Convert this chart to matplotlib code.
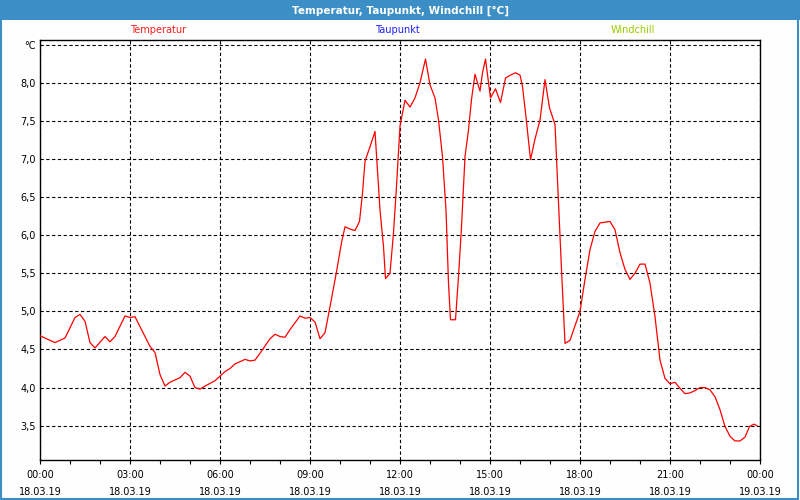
import matplotlib
matplotlib.use("Agg")
import matplotlib.pyplot as plt
from matplotlib.patches import Rectangle

# Temperatur 18.03.19, minutes after midnight and value in degC
minutes = [0, 30, 50, 70, 80, 90, 100, 110, 130, 140, 150, 170, 180, 190, 200,
           220, 230, 240, 250, 260, 280, 290, 300, 310, 320, 330, 350, 370, 380,
           390, 410, 420, 430, 440, 460, 470, 480, 490, 500, 520, 530, 540, 550,
           560, 570, 580, 593, 603, 610, 620, 630, 639, 645, 650, 660, 670, 680,
           687, 691, 700, 707, 713, 720, 730, 740, 750, 760, 771, 780, 790, 797,
           805, 812, 817, 821, 831, 837, 843, 850, 857, 863, 870, 880, 885, 891,
           901, 911, 921, 931, 941, 951, 960, 965, 973, 981, 990, 1000, 1010,
           1019, 1030, 1037, 1043, 1050, 1060, 1080, 1090, 1100, 1110, 1120,
           1130, 1140, 1150, 1160, 1170, 1180, 1190, 1200, 1210, 1220, 1230,
           1240, 1250, 1260, 1270, 1280, 1290, 1300, 1310, 1320, 1330, 1340,
           1350, 1360, 1370, 1380, 1390, 1400, 1410, 1419, 1428, 1434]
temperatur = [4.68, 4.59, 4.65, 4.92, 4.96, 4.87, 4.59, 4.52, 4.67, 4.60, 4.67,
              4.94, 4.92, 4.93, 4.80, 4.54, 4.46, 4.17, 4.02, 4.07, 4.13, 4.20,
              4.15, 4.00, 3.98, 4.02, 4.09, 4.21, 4.25, 4.31, 4.37, 4.35, 4.36,
              4.45, 4.64, 4.70, 4.67, 4.66, 4.76, 4.94, 4.91, 4.92, 4.86, 4.64,
              4.72, 5.06, 5.52, 5.90, 6.11, 6.08, 6.06, 6.18, 6.55, 6.97, 7.16,
              7.36, 6.33, 5.85, 5.43, 5.50, 6.03, 6.64, 7.43, 7.77, 7.68, 7.80,
              8.00, 8.31, 7.97, 7.80, 7.51, 7.03, 6.33, 5.37, 4.89, 4.89, 5.46,
              6.11, 7.03, 7.38, 7.78, 8.11, 7.89, 8.13, 8.31, 7.80, 7.92, 7.74,
              8.06, 8.10, 8.13, 8.10, 7.95, 7.49, 6.99, 7.26, 7.51, 8.04, 7.67,
              7.45, 6.42, 5.55, 4.58, 4.62, 5.00, 5.42, 5.81, 6.05, 6.16, 6.17,
              6.18, 6.07, 5.77, 5.55, 5.42, 5.50, 5.62, 5.62, 5.37, 4.93, 4.36,
              4.12, 4.05, 4.07, 3.99, 3.92, 3.93, 3.96, 4.00, 4.00, 3.97, 3.88,
              3.71, 3.49, 3.36, 3.30, 3.30, 3.35, 3.49, 3.52, 3.50]

x_ticks = [0, 180, 360, 540, 720, 900, 1080, 1260, 1440]
x_labels = ["00:00\n18.03.19", "03:00\n18.03.19", "06:00\n18.03.19",
            "09:00\n18.03.19", "12:00\n18.03.19", "15:00\n18.03.19",
            "18:00\n18.03.19", "21:00\n18.03.19", "00:00\n19.03.19"]
y_ticks = [3.5, 4.0, 4.5, 5.0, 5.5, 6.0, 6.5, 7.0, 7.5, 8.0, 8.5]
y_labels = ["3,5", "4,0", "4,5", "5,0", "5,5", "6,0", "6,5", "7,0", "7,5", "8,0", "°C"]

fig = plt.figure(figsize=(8, 5), dpi=100)
fig.patch.set_facecolor("#fdfefd")

# blue title bar and window frame
bar_blue = "#3c8fc6"
fig.patches.append(Rectangle((0, 0.96), 1, 0.04, transform=fig.transFigure,
                             facecolor=bar_blue, edgecolor="none", zorder=0))
fig.patches.append(Rectangle((0.001, 0.002), 0.997, 0.996, transform=fig.transFigure,
                             facecolor="none", edgecolor=bar_blue, lw=1.5, zorder=0))
fig.text(0.5, 0.979, "Temperatur, Taupunkt, Windchill [°C]", color="white",
         fontsize=7.5, fontweight="bold", ha="center", va="center")

fig.text(158 / 800, 1 - 30 / 500, "Temperatur", color="#ff2020", fontsize=7, ha="center", va="center")
fig.text(397 / 800, 1 - 30 / 500, "Taupunkt", color="#2020ff", fontsize=7, ha="center", va="center")
fig.text(633 / 800, 1 - 30 / 500, "Windchill", color="#99cc00", fontsize=7, ha="center", va="center")

ax = fig.add_axes([40 / 800, 40 / 500, 720 / 800, 420 / 500])
ax.set_facecolor("white")
ax.plot(minutes, temperatur, color="red", lw=0.9, zorder=3)

ax.set_xlim(0, 1440)
ax.set_ylim(3.05, 8.56)
ax.set_xticks(x_ticks)
ax.set_xticklabels(x_labels, fontsize=7, linespacing=1.9)
ax.set_xticks(range(0, 1441, 60), minor=True)
ax.set_yticks(y_ticks)
ax.set_yticklabels(y_labels, fontsize=7)
ax.tick_params(axis="x", which="both", length=3, width=0.8, direction="out", pad=4)
ax.tick_params(axis="y", length=0, pad=3)

ax.grid(True, which="major", color="black", lw=0.8, linestyle=(0, (3, 2.2)))
ax.set_axisbelow(True)
for s in ax.spines.values():
    s.set_color("black")
    s.set_linewidth(1)

plt.savefig("out.png", dpi=100, facecolor=fig.get_facecolor())
